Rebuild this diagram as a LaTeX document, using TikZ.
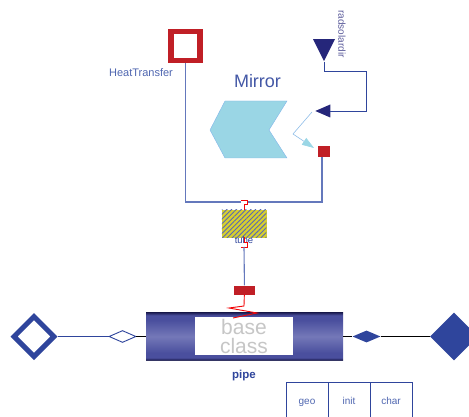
\documentclass[tikz,border=0pt]{standalone}
\usepackage{fontspec}
\setmainfont{Liberation Sans}
\usetikzlibrary{positioning, shapes.geometric, arrows.meta, patterns.meta}
\definecolor{mblue}{HTML}{2F459C}
\definecolor{mtext}{HTML}{4F66B0}
\definecolor{mline}{HTML}{6478BC}
\definecolor{mnavy}{HTML}{25267A}
\definecolor{mred}{HTML}{C01F26}
\definecolor{mcyan}{HTML}{9AD6E5}
\definecolor{mray}{HTML}{8FBDE8}
\definecolor{molive}{HTML}{D6CF2E}
\definecolor{pipedark}{HTML}{1E1F55}
\definecolor{pipemid}{HTML}{4A4F9E}
\definecolor{pipelight}{HTML}{7478B8}
\pgfdeclareverticalshading{pipeshade}{100bp}{
  color(0bp)=(gray!50); color(25bp)=(gray!50); color(25.6bp)=(pipedark);
  color(28bp)=(pipemid); color(33bp)=(pipemid); color(50bp)=(pipelight);
  color(67bp)=(pipemid); color(72bp)=(pipemid); color(75bp)=(pipedark);
  color(100bp)=(pipedark)}
\tikzset{
  wire/.style={draw=mline, line width=1.1pt},
  bluewire/.style={draw=mblue, line width=0.9pt},
  blackwire/.style={draw=black, line width=0.9pt},
  redwire/.style={draw=red!80!mred, line width=0.9pt},
  lbl/.style={text=mtext, inner sep=0pt},
  bigdiamond/.style={diamond, aspect=1, inner sep=0pt, minimum width=48pt, minimum height=48pt},
  smalldiamond/.style={diamond, aspect=2.5, inner sep=0pt, minimum width=28pt, minimum height=12pt},
  navytri/.style={isosceles triangle, isosceles triangle stretches, fill=mnavy, inner sep=0pt},
  cell/.style={rectangle, draw=mblue, line width=0.8pt, minimum width=42pt, minimum height=40pt, text=mtext, text height=7pt, text depth=2pt, font=\fontsize{10}{11}\selectfont, inner sep=0pt}
}
\begin{document}
\begin{tikzpicture}[x=1pt, y=-1pt, on grid]
  \clip (0,0) rectangle (469,417);
  % top part
  \node[rectangle, draw=mred, line width=5.5pt, fill=white, minimum width=29pt, minimum height=29pt, inner sep=0pt] (heat) at (185.5,46) {};
  \node[lbl, font=\fontsize{11}{12}\selectfont] (heatlabel) at (141,73) {HeatTransfer};
  \node[lbl, text=mblue!90!white, font=\fontsize{18}{22}\selectfont] (mirrorlabel) at (257.5,81) {Mirror};
  \fill[mcyan, draw=mcyan!85!blue, line width=0.4pt] (225,101) -- (287,101) -- (269,130) -- (287,158) -- (225,158) -- (210,130) -- cycle;
  \node[navytri, shape border rotate=270, minimum width=22pt, minimum height=22pt] (radsolar) at (324,46) {};
  \node[lbl, rotate=-90, font=\fontsize{10}{10}\selectfont, text=mnavy!75!white] (radlabel) at (342,34) {radsolardir};
  \node[navytri, shape border rotate=180, minimum width=13pt, minimum height=15pt] (mirrordir) at (326,111) {};
  \node[rectangle, fill=mred, minimum width=12pt, minimum height=11pt, inner sep=0pt] (mirrorport) at (324,152) {};
  \coordinate (bendtop) at (366,71);
  \draw[bluewire] (radsolar.apex) |- (bendtop) |- (mirrordir);
  % light ray off the mirror
  \coordinate (rayin) at (312,112);
  \coordinate (raybend) at (293,134);
  \coordinate (rayout) at (314,148);
  \draw[draw=mray, line width=0.6pt, -{Triangle[length=12pt, width=8pt, color=mcyan]}] (rayin) -- (raybend) -- (rayout);
  % tube
  \coordinate (junction) at (244,202);
  \draw[wire] (heat) |- (junction) -| (322,157);
  \node[rectangle, fill=molive, draw=molive, line width=0.5pt, minimum width=44pt, minimum height=27pt, inner sep=0pt] (tube) at (244,223.5) {};
  \fill[pattern={Lines[angle=45, distance=3.4pt, line width=0.9pt]}, pattern color=mblue!80!white] (tube.south west) rectangle (tube.north east);
  \node[rectangle, fill=white, minimum width=6pt, minimum height=4pt, inner sep=0pt] (tubetop) at (244,202) {};
  \draw[redwire] (241,200.5) -- (247,200.5) -- (247,204) -- (244,204) -- (tube.north);
  \node[lbl, text=mblue, font=\fontsize{9.5}{10}\selectfont] (tubelabel) at (244,240) {tube};
  \draw[redwire] (tube.south) -- (244,242) -- (247,242) -- (247,247) -- (241,247);
  \node[rectangle, fill=mred, minimum width=21pt, minimum height=9pt, inner sep=0pt] (wallport) at (244.5,290) {};
  \draw[wire] (244,247) -- (wallport);
  % pipe
  \node[rectangle, shading=pipeshade, minimum width=197pt, minimum height=48pt, inner sep=0pt] (pipe) at (244.5,336.5) {};
  \node[rectangle, fill=white, minimum width=98pt, minimum height=38pt, inner sep=0pt] (baseclass) at (244,336) {};
  \node[align=center, text=gray!45, inner sep=0pt, font=\fontsize{21}{19}\selectfont] (baselabel) at (244,336) {base\\class};
  \node[lbl, text=mblue, font=\bfseries\fontsize{11.5}{12}\selectfont] (pipelabel) at (244,376) {pipe};
  \coordinate (zigb) at (229,308);
  \coordinate (zigc) at (257,313);
  \coordinate (zigd) at (233,318);
  \draw[redwire] (wallport) -- (244,306) -- (zigb) -- (zigc) -- (zigd);
  % flanges
  \node[bigdiamond, draw=mblue, line width=5pt, fill=white, minimum width=42pt, minimum height=42pt] (porta) at (34,336.5) {};
  \node[smalldiamond, draw=mblue, line width=0.9pt, fill=white, minimum width=27pt] (flowa) at (122.5,336.5) {};
  \node[smalldiamond, fill=mblue] (flowb) at (366.5,336.5) {};
  \node[bigdiamond, fill=mblue] (portb) at (454,336.5) {};
  \draw[bluewire] (porta) -- (flowa);
  \draw[blackwire] (flowa) -- (pipe.west |- flowa);
  \draw[blackwire] (pipe.east |- flowb) -- (flowb);
  \draw[blackwire] (flowb) -- (portb);
  % parameter tabs
  \node[cell] (geo) at (307,402) {geo};
  \node[cell, right=42pt of geo] (init) {init};
  \node[cell, right=42pt of init] (char) {char};
\end{tikzpicture}
\end{document}
